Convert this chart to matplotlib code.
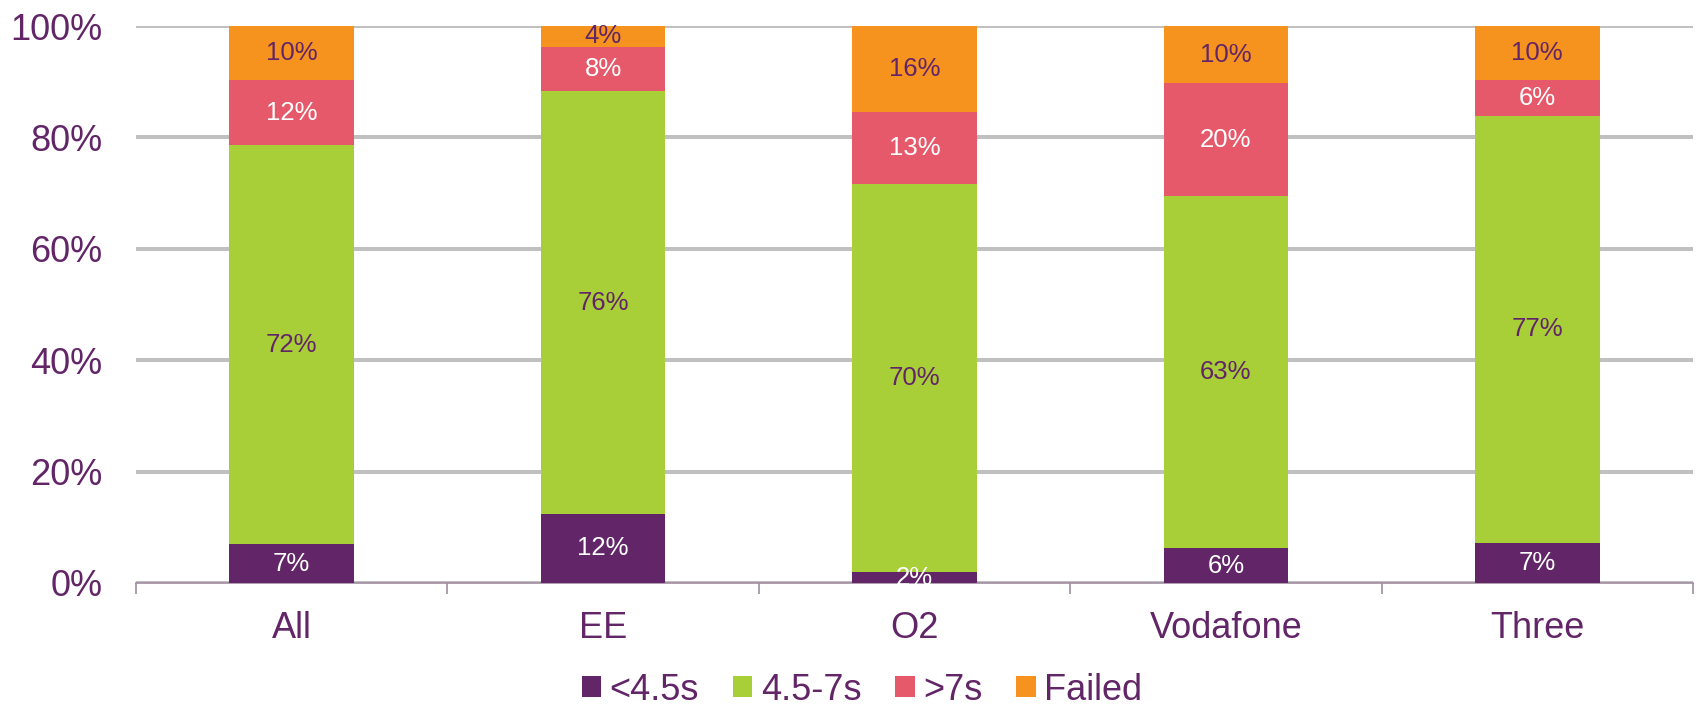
import matplotlib.pyplot as plt
import numpy as np

plt.rcParams["font.family"] = ["Liberation Sans", "DejaVu Sans"]

categories = ["All", "EE", "O2", "Vodafone", "Three"]
series_names = ["<4.5s", "4.5-7s", ">7s", "Failed"]
under_45 = [7.0, 12.4, 1.9, 6.2, 7.2]
mid_45_7 = [71.6, 75.9, 69.8, 63.3, 76.7]
over_7 = [11.7, 8.0, 12.8, 20.2, 6.4]
failed = [9.7, 3.7, 15.6, 10.3, 9.7]

colors = ["#622567", "#a9cf38", "#e5596a", "#f6921e"]
text_colors = ["white", "#622567", "white", "#622567"]
PURPLE = "#622567"

fig = plt.figure(figsize=(16.96, 7.07), dpi=100)
ax = fig.add_axes([136 / 1696, 1 - 583 / 707, (1693 - 136) / 1696, (583 - 26) / 707])

x = np.arange(len(categories))
bottom = np.zeros(len(categories))
handles = []
for vals, name, col, tcol in zip([under_45, mid_45_7, over_7, failed], series_names, colors, text_colors):
    vals = np.asarray(vals)
    bars = ax.bar(x, vals, width=0.4, bottom=bottom, color=col, label=name, zorder=3)
    handles.append(bars)
    for xi, b, v in zip(x, bottom, vals):
        ax.text(xi, b + v / 2, "%d%%" % round(v), ha="center", va="center",
                fontsize=18.5, color=tcol, zorder=4)
    bottom = bottom + vals

ax.set_xlim(-0.5, len(categories) - 0.5)
ax.set_ylim(0, 100)
ax.set_yticks([0, 20, 40, 60, 80, 100])
ax.set_yticklabels(["0%", "20%", "40%", "60%", "80%", "100%"])
ax.yaxis.grid(True, color="#c0c0c0", linewidth=2.9, zorder=0)
ax.set_axisbelow(True)
ax.tick_params(axis="y", length=0, pad=24, labelsize=26, labelcolor=PURPLE)

ax.set_xticks(x)
ax.set_xticklabels(categories)
ax.set_xticks(np.arange(len(categories) + 1) - 0.5, minor=True)
ax.tick_params(axis="x", which="major", length=0, pad=20, labelsize=26, labelcolor=PURPLE)
ax.tick_params(axis="x", which="minor", length=8, width=1.2, color="#a08ca0", direction="out")

for side in ["top", "right", "left"]:
    ax.spines[side].set_visible(False)
ax.spines["bottom"].set_color("#a08ca0")
ax.spines["bottom"].set_linewidth(1.2)

fig.legend(handles=handles, labels=series_names, loc="center", bbox_to_anchor=(862 / 1696, 1 - 690 / 707),
           ncol=4, frameon=False, fontsize=26, labelcolor=PURPLE, handlelength=0.53, handleheight=0.53,
           handletextpad=0.23, columnspacing=0.95)

fig.savefig("out.png")
